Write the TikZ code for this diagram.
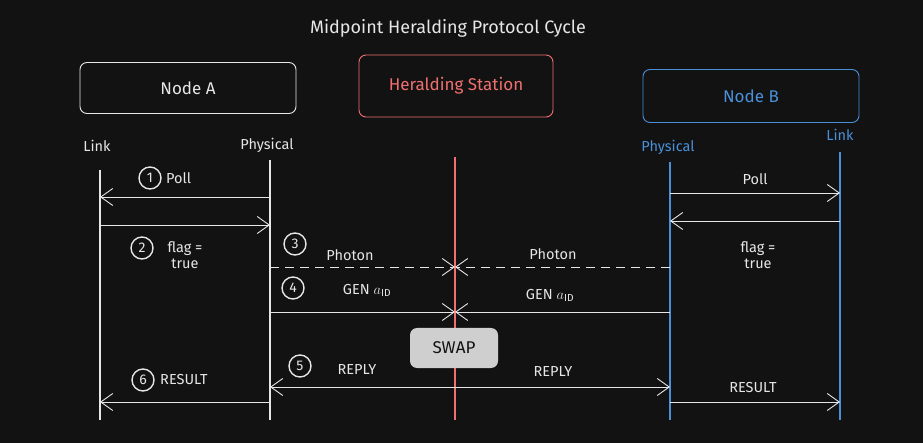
\documentclass[tikz,border=0pt]{standalone}
\usepackage{fontspec}
\setmainfont{Fira Sans}
\usetikzlibrary{arrows.meta,positioning}
\definecolor{bg}{HTML}{121212}
\definecolor{ink}{HTML}{E6E6E6}
\definecolor{hred}{HTML}{F07070}
\definecolor{hblue}{HTML}{4A90D9}
\tikzset{>={Straight Barb[length=12pt,width=17pt]}}
\tikzset{
  box/.style={draw, rounded corners=7pt, line width=0.9pt, font=\fontsize{17}{19}\selectfont},
  life/.style={line width=1.3pt},
  msg/.style={->, ink, line width=0.9pt},
  lbl/.style={ink, font=\fontsize{14.5}{16}\selectfont, align=center},
  stepnum/.style={circle, draw=ink, line width=1.4pt, inner sep=0pt, minimum size=22pt, ink, font=\fontsize{14}{16}\selectfont},
}
\begin{document}
\begin{tikzpicture}[x=1pt,y=-1pt]
\fill[bg] (0,0) rectangle (923,443);
\useasboundingbox (0,0) rectangle (923,443);
%title
\node[ink, font=\fontsize{18}{20}\selectfont] (title) at (448,28) {Midpoint Heralding Protocol Cycle};
%participants
\node[box, draw=ink, ink, minimum width=216pt, minimum height=51pt] (nodeA) at (188,88) {Node A};
\node[box, draw=hred, hred, minimum width=194pt, minimum height=62pt] (station) at (456,86) {Heralding Station};
\node[box, draw=hblue, hblue, minimum width=216pt, minimum height=53pt] (nodeB) at (751,96) {Node B};
%lifeline labels
\node[lbl] (aLinkLbl) at (97,146) {Link};
\node[lbl] (aPhysLbl) at (267,145) {Physical};
\node[lbl, hblue] (bPhysLbl) at (668,147) {Physical};
\node[lbl, hblue] (bLinkLbl) at (840,135) {Link};
%lifelines
\coordinate (aL) at (100,170); \coordinate (aLe) at (100,420);
\coordinate (aP) at (270,160); \coordinate (aPe) at (270,420);
\coordinate (hs) at (455,157); \coordinate (hse) at (455,420);
\coordinate (bP) at (670,162); \coordinate (bPe) at (670,420);
\coordinate (bL) at (840,152); \coordinate (bLe) at (840,420);
\draw[life, ink] (aL) -- (aLe);
\draw[life, ink] (aP) -- (aPe);
\draw[life, hred] (hs) -- (hse);
\draw[life, hblue] (bP) -- (bPe);
\draw[life, hblue] (bL) -- (bLe);
%node A side
\draw[msg] (aP |- 0,197) -- (aL |- 0,197);
\draw[msg] (aL |- 0,225) -- (aP |- 0,225);
\draw[msg, dashed, dash pattern=on 9pt off 6pt] (aP |- 0,267) -- (hs |- 0,267);
\draw[msg] (aP |- 0,312) -- (hs |- 0,312);
\draw[msg] (aP |- 0,402) -- (aL |- 0,402);
%node B side
\draw[msg] (bP |- 0,193) -- (bL |- 0,193);
\draw[msg] (bL |- 0,221) -- (bP |- 0,221);
\draw[msg, dashed, dash pattern=on 9pt off 6pt] (bP |- 0,267) -- (hs |- 0,267);
\draw[msg] (bP |- 0,312) -- (hs |- 0,312);
\draw[msg] (bP |- 0,402) -- (bL |- 0,402);
%reply
\draw[msg, <->] (aP |- 0,387) -- (bP |- 0,387);
%swap
\node[fill=ink!90!black, rounded corners=7pt, minimum width=88pt, minimum height=40pt, text=bg, font=\fontsize{17}{19}\selectfont] (swap) at (454,348) {SWAP};
%steps
\node[stepnum] (s1) at (150,178) {1};
\node[stepnum] (s2) at (142,248) {2};
\node[stepnum] (s3) at (295,244) {3};
\node[stepnum] (s4) at (293,288) {4};
\node[stepnum] (s5) at (300,366) {5};
\node[stepnum] (s6) at (143,380) {6};
%labels
\node[lbl, right=1pt of s1] (pollA) {Poll};
\node[lbl] (flagA) at (185,255) {flag =\\ true};
\node[lbl] (photonA) at (350,255) {Photon};
\node[lbl] (genA) at (367,290) {GEN $a_{\mathrm{ID}}$};
\node[lbl] (replyA) at (357,370) {REPLY};
\node[lbl, right=2pt of s6] (resultA) {RESULT};
\node[lbl] (pollB) at (755,179) {Poll};
\node[lbl] (flagB) at (758,255) {flag =\\ true};
\node[lbl] (photonB) at (553,254) {Photon};
\node[lbl] (genB) at (550,295) {GEN $a_{\mathrm{ID}}$};
\node[lbl] (replyB) at (553,372) {REPLY};
\node[lbl] (resultB) at (753,388) {RESULT};
\end{tikzpicture}
\end{document}
